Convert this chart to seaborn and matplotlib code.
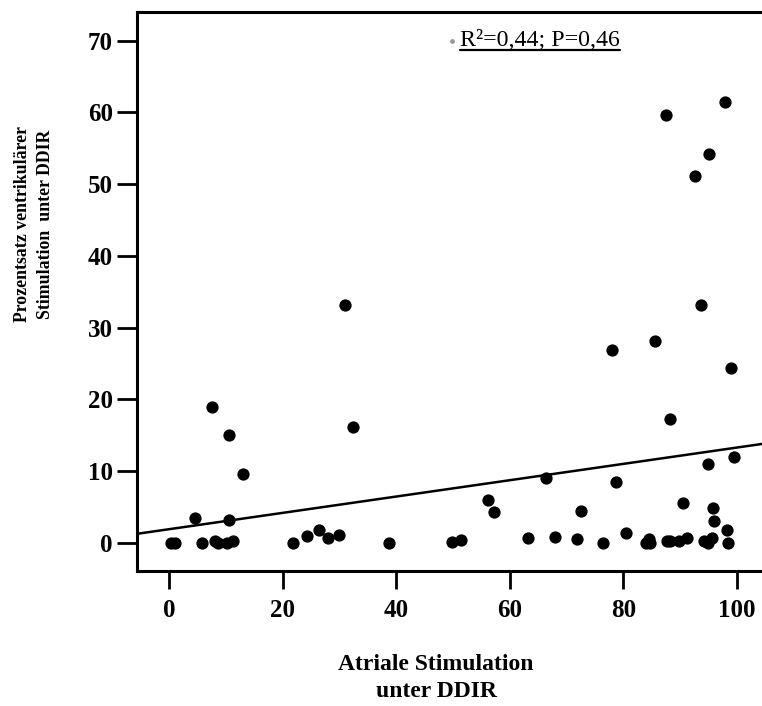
import numpy as np
import pandas as pd
import matplotlib
matplotlib.use("Agg")
import matplotlib.pyplot as plt
import seaborn as sns

# Atrial pacing (%) and ventricular pacing (%) under DDIR, one entry per patient
atrial_pct = [0.25, 1.0, 4.6, 5.8, 7.5, 8.1, 8.6, 10.2, 10.5, 10.5, 11.2, 13.0,
              21.8, 24.2, 26.4, 28.0, 29.9, 30.9, 32.3, 38.8, 49.9, 51.4, 56.1,
              57.2, 63.2, 66.3, 68.0, 71.8, 72.5, 76.4, 78.1, 78.7, 80.4, 84.0,
              84.5, 84.7, 85.6, 87.5, 87.7, 88.2, 88.3, 89.9, 90.6, 91.2, 92.6,
              93.7, 94.2, 94.9, 95.0, 95.1, 95.6, 95.9, 96.0, 98.0, 98.2, 98.5,
              99.0, 99.5]
ventricular_pct = [0.0, 0.0, 3.5, 0.0, 19.0, 0.3, 0.0, 0.0, 15.0, 3.2, 0.3, 9.6,
                   0.0, 1.0, 1.8, 0.65, 1.1, 33.1, 16.2, 0.0, 0.15, 0.45, 6.0,
                   4.3, 0.75, 9.1, 0.85, 0.55, 4.4, 0.05, 26.9, 8.5, 1.4, 0.0,
                   0.5, 0.0, 28.1, 59.6, 0.35, 17.3, 0.35, 0.3, 5.6, 0.75, 51.2,
                   33.2, 0.3, 0.05, 11.0, 54.2, 0.75, 4.9, 3.1, 61.4, 1.8, 0.0,
                   24.4, 12.0]

# Linear fit shown on the chart
fit_intercept = 1.93
fit_slope = 0.1137
stats_text = "R\u00b2=0,44; P=0,46"

x_ticks = [0, 20, 40, 60, 80, 100]
y_ticks = [0, 10, 20, 30, 40, 50, 60, 70]
x_limits = (-5.7, 104.45)
y_limits = (-3.9, 74.0)

df = pd.DataFrame({"atrial": atrial_pct, "ventricular": ventricular_pct})

sns.set_theme(style="ticks")
plt.rcParams["font.family"] = ["Liberation Serif", "DejaVu Serif"]
plt.rcParams["font.weight"] = "bold"
plt.rcParams["text.color"] = "black"
plt.rcParams["xtick.color"] = "black"
plt.rcParams["ytick.color"] = "black"

fig = plt.figure(figsize=(7.62, 7.06), dpi=100)
ax = fig.add_axes([137 / 762, 1 - 571 / 706, 1 - 137 / 762, (571 - 12) / 706])

sns.scatterplot(data=df, x="atrial", y="ventricular", ax=ax, color="black",
                s=78, linewidth=0, zorder=3)

line_x = np.array(x_limits)
line_df = pd.DataFrame({"x": line_x, "y": fit_intercept + fit_slope * line_x})
sns.lineplot(data=line_df, x="x", y="y", ax=ax, color="black", linewidth=1.8,
             zorder=2)

ax.set_xlim(*x_limits)
ax.set_ylim(*y_limits)
ax.set_xticks(x_ticks)
ax.set_yticks(y_ticks)
ax.set_xticklabels([str(t) for t in x_ticks], fontsize=18, fontweight="bold")
ax.set_yticklabels([str(t) for t in y_ticks], fontsize=18, fontweight="bold")
ax.tick_params(axis="both", direction="out", length=14.5, width=2,
               color="black", labelcolor="black")
ax.tick_params(axis="y", pad=3)
ax.tick_params(axis="x", length=13, pad=7)
ax.set_xlabel("")
ax.set_ylabel("")

for side in ("left", "top", "bottom"):
    ax.spines[side].set_linewidth(2.2)
    ax.spines[side].set_color("black")
ax.spines["right"].set_visible(False)

# Statistics note with a small key marker, underlined
ax.scatter([49.8], [70], s=6, color="#9a9a9a", zorder=3)
note = ax.text(51.3, 70, stats_text, fontsize=17.2, fontweight="normal",
               ha="left", va="center", color="black")
fig.canvas.draw()
bb = note.get_window_extent(renderer=fig.canvas.get_renderer())
inv = fig.transFigure.inverted()
(x0, y0), (x1, _) = inv.transform([(bb.x0, bb.y0 + 1), (bb.x1, bb.y0)])
fig.add_artist(plt.Line2D([x0, x1], [y0, y0], transform=fig.transFigure,
                          color="black", linewidth=1.6))

fig.text(34 / 762, 1 - 224 / 706,
         "Prozentsatz ventrikulärer\nStimulation  unter DDIR",
         rotation=90, ha="center", va="center", fontsize=12.8,
         fontweight="bold", multialignment="center", linespacing=1.45)
fig.text(436 / 762, 1 - 678 / 706, "Atriale Stimulation\nunter DDIR",
         ha="center", va="center", fontsize=17, fontweight="bold",
         multialignment="center", linespacing=1.35)

fig.savefig("out.png", dpi=100)
